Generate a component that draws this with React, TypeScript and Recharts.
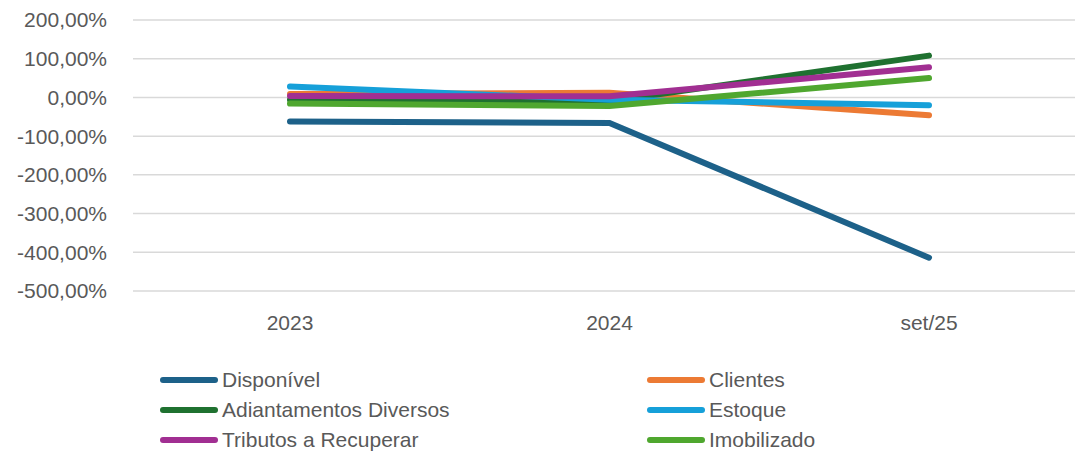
import { LineChart, Line, XAxis, YAxis, CartesianGrid } from 'recharts'

const periods = ['2023', '2024', 'set/25']
const yTicks = [200, 100, 0, -100, -200, -300, -400, -500]

const disponivel = [-62, -66, -414]
const clientes = [9, 12, -46]
const adiantamentos = [-6, -10, 108]
const estoque = [28, -6, -20]
const tributos = [4, 3, 78]
const imobilizado = [-16, -22, 50]

const series = [
  { key: 'disponivel', name: 'Disponível', color: '#1d6189', values: disponivel },
  { key: 'clientes', name: 'Clientes', color: '#ec7a34', values: clientes },
  { key: 'adiantamentos', name: 'Adiantamentos Diversos', color: '#1f7130', values: adiantamentos },
  { key: 'estoque', name: 'Estoque', color: '#16a0d9', values: estoque },
  { key: 'tributos', name: 'Tributos a Recuperar', color: '#a12f92', values: tributos },
  { key: 'imobilizado', name: 'Imobilizado', color: '#4fa72f', values: imobilizado },
]

const data = periods.map((p, i) => {
  const row: Record<string, string | number> = { period: p }
  series.forEach((s) => { row[s.key] = s.values[i] })
  return row
})

const font = '"Liberation Sans", Arial, sans-serif'
const fmt = (v: number) => v.toFixed(2).replace('.', ',') + '%'

export default function App() {
  return (
    <div style={{ position: 'absolute', left: 0, top: 0, width: 1080, height: 455, background: '#fff', fontFamily: font }}>
      <LineChart width={1080} height={455} data={data} margin={{ top: 20, right: 5, bottom: 124, left: 0 }}>
        <CartesianGrid vertical={false} stroke="#d9d9d9" strokeWidth={1.5} />
        <XAxis
          dataKey="period"
          axisLine={false}
          tickLine={false}
          tickSize={0}
          tickMargin={24}
          height={40}
          padding={{ left: 157, right: 146 }}
          tick={{ fontSize: 21, fill: '#595959', fontFamily: font }}
        />
        <YAxis
          domain={[-500, 200]}
          ticks={yTicks}
          interval={0}
          width={133}
          axisLine={false}
          tickLine={false}
          tickSize={0}
          tickMargin={26}
          tickFormatter={fmt}
          tick={{ fontSize: 21, fill: '#595959', fontFamily: font }}
        />
        {series.map((s) => (
          <Line
            key={s.key}
            type="linear"
            dataKey={s.key}
            name={s.name}
            stroke={s.color}
            strokeWidth={6}
            strokeLinecap="round"
            dot={false}
            activeDot={false}
            isAnimationActive={false}
          />
        ))}
      </LineChart>
      {series.map((s, i) => {
        const col = i % 2
        const row = Math.floor(i / 2)
        return (
          <div
            key={s.key}
            style={{
              position: 'absolute',
              left: col === 0 ? 160 : 647,
              top: 380 + row * 30 - 13,
              height: 26,
              display: 'flex',
              alignItems: 'center',
              fontSize: 21,
              color: '#595959',
            }}
          >
            <span style={{ display: 'inline-block', width: 58, height: 6, borderRadius: 3, background: s.color, marginRight: 4 }} />
            <span>{s.name}</span>
          </div>
        )
      })}
    </div>
  )
}
